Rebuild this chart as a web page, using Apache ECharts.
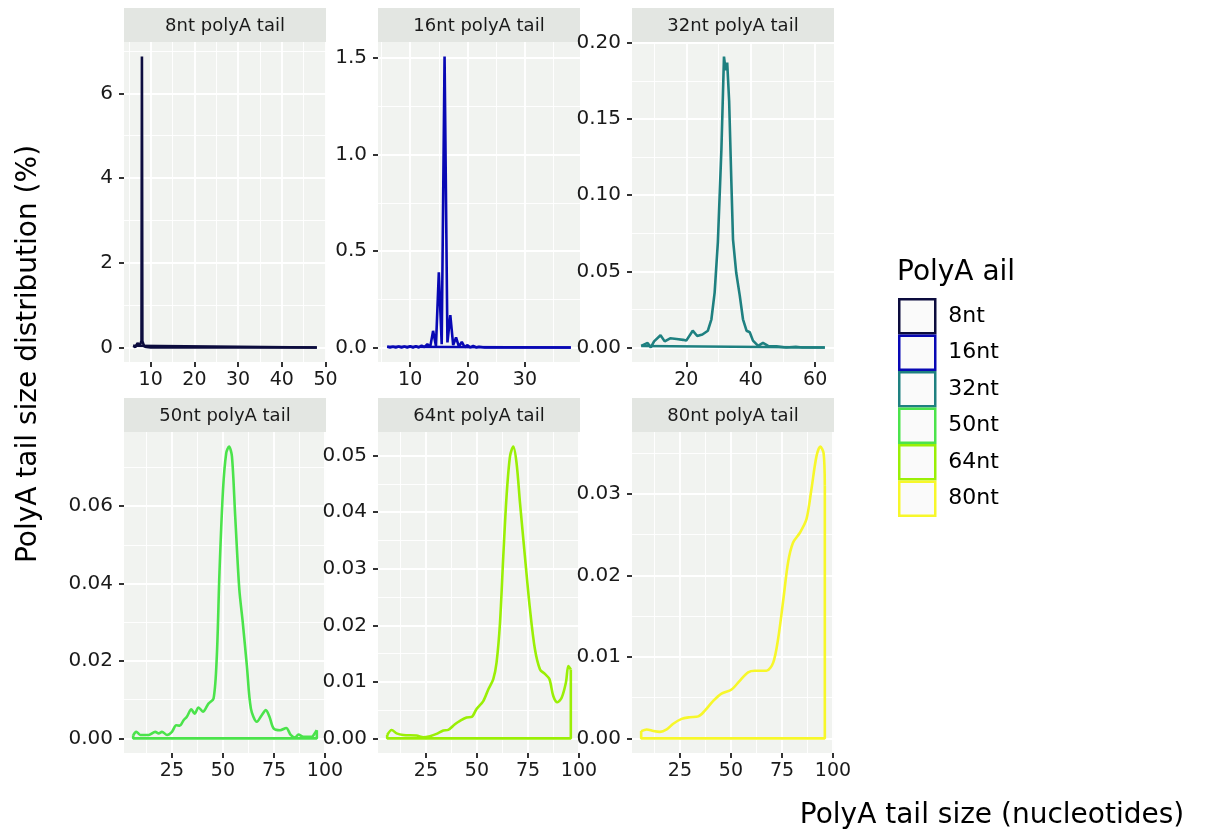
<!DOCTYPE html>
<html>
<head>
<meta charset="utf-8">
<script src="https://cdn.jsdelivr.net/npm/echarts@6/dist/echarts.min.js"></script>
<style>
html, body { margin: 0; padding: 0; background: #fff; }
#chart { width: 1205px; height: 834px; }
</style>
</head>
<body>
<div id="chart"></div>
<script>
// facets
const tails = ['8nt', '16nt', '32nt', '50nt', '64nt', '80nt'];

// 8nt polyA tail
const x8 = [6, 6.5, 7, 7.5, 7.9, 8, 8.1, 8.5, 9, 10, 48];
const y8 = [0.04, 0.01, 0.1, 0.05, 0.15, 6.87, 0.15, 0.03, 0.01, 0, 0];
const xTicks8 = ['10', '20', '30', '40', '50'];
const yTicks8 = ['0', '2', '4', '6'];

// 16nt polyA tail
const x16 = [6, 6.5, 7, 7.5, 8, 8.5, 9, 9.5, 10, 10.5, 11, 11.5, 12, 12.5, 13, 13.5, 14, 14.5, 15, 15.5,
  16, 16.5, 17, 17.5, 18, 18.5, 19, 19.5, 20, 20.5, 21, 21.5, 22, 23, 38];
const y16 = [0.004, 0, 0.004, 0, 0.005, 0, 0.005, 0, 0.006, 0, 0.007, 0, 0.01, 0.002, 0.017, 0.003, 0.086, 0.008, 0.39, 0.017,
  1.508, 0.026, 0.167, 0.012, 0.052, 0.004, 0.029, 0.002, 0.012, 0, 0.008, 0, 0.004, 0, 0];
const xTicks16 = ['10', '20', '30'];
const yTicks16 = ['0.0', '0.5', '1.0', '1.5'];

// 32nt polyA tail
const x32 = [6, 8, 9, 10, 12, 13.3, 15, 17, 19, 20, 22, 23.4, 25, 26.7, 27.8, 28.8, 29.8, 30.9, 31.7, 32.2,
  32.7, 33.3, 34, 34.5, 35.5, 36.6, 37.6, 38.7, 39.7, 40.7, 42.3, 43.8, 45.4, 48, 51, 54, 56, 63];
const y32 = [0.001, 0.003, 0, 0.004, 0.008, 0.004, 0.006, 0.0055, 0.005, 0.0045, 0.011, 0.0075, 0.0085, 0.011, 0.0185, 0.036, 0.069, 0.13, 0.191, 0.182,
  0.187, 0.162, 0.108, 0.071, 0.049, 0.034, 0.0185, 0.011, 0.010, 0.0045, 0.001, 0.003, 0.001, 0.0007, 0, 0.0004, 0, 0];
const xTicks32 = ['20', '40', '60'];
const yTicks32 = ['0.00', '0.05', '0.10', '0.15', '0.20'];

// 50nt polyA tail
const x50 = [6, 7.5, 9.5, 13.6, 16.8, 18.5, 20.1, 22.6, 25, 27.1, 28.8, 30.7, 32.3, 34.5, 36.1, 38, 40.2, 42.9, 45.4, 47,
  48.3, 50, 51.6, 53, 54.4, 56, 58, 59.7, 61.7, 63.7, 66.6, 69, 71, 72.8, 74.8, 78, 81, 83.2, 85.4, 87, 89.4, 93.5, 95, 96];
const y50 = [0.0008, 0.0017, 0.0009, 0.0009, 0.0017, 0.0013, 0.0017, 0.0009, 0.0017, 0.0034, 0.0033, 0.0047, 0.0056, 0.0075, 0.0064, 0.008, 0.0069, 0.009, 0.0103, 0.0214,
  0.043, 0.064, 0.0737, 0.0754, 0.0729, 0.0574, 0.0386, 0.03, 0.0189, 0.0077, 0.0043, 0.006, 0.0073, 0.0056, 0.0026, 0.0021, 0.0027, 0.0009, 0.0002, 0.001, 0.0004, 0.0004, 0.0013, 0.0021];
const xTicks50 = ['25', '50', '75', '100'];
const yTicks50 = ['0.00', '0.02', '0.04', '0.06'];

// 64nt polyA tail
const x64 = [6, 8.2, 10.6, 13.9, 20.4, 23.7, 27, 30.2, 33.5, 35.9, 39.2, 41.7, 44.9, 47.4, 49.8, 53.1, 55.6, 58, 59.6, 61.3,
  62.9, 64.5, 66.2, 67.8, 69.4, 71.1, 73.5, 76, 78.4, 80.9, 83.3, 85.5, 87.4, 89.4, 91.5, 93.6, 94.8, 96];
const y64 = [0.0006, 0.0015, 0.0009, 0.0006, 0.0005, 0.0002, 0.0004, 0.0008, 0.0014, 0.0015, 0.0025, 0.0031, 0.0037, 0.0038, 0.0052, 0.0066, 0.0087, 0.0105, 0.0134, 0.0205,
  0.0322, 0.0428, 0.0499, 0.0516, 0.0487, 0.0416, 0.0322, 0.0228, 0.0158, 0.0122, 0.0114, 0.0105, 0.0075, 0.0064, 0.0072, 0.0099, 0.0128, 0.0122];
const xTicks64 = ['25', '50', '75', '100'];
const yTicks64 = ['0.00', '0.01', '0.02', '0.03', '0.04', '0.05'];

// 80nt polyA tail
const x80 = [6, 8.7, 12, 15.2, 18.5, 21.7, 25.8, 29.9, 34, 37.2, 41.3, 45.4, 50.3, 54.4, 58.4, 61.7, 67.4, 70.7, 73.1, 75.5,
  78, 80.4, 83.7, 87, 89.4, 91.9, 93.8, 95.4, 96];
const y80 = [0.0009, 0.0011, 0.0009, 0.0008, 0.0011, 0.0018, 0.0024, 0.0026, 0.0027, 0.0034, 0.0046, 0.0055, 0.006, 0.0071, 0.0081, 0.0083, 0.0083, 0.0093, 0.0122, 0.0167,
  0.0216, 0.024, 0.0252, 0.0269, 0.0305, 0.0346, 0.0358, 0.035, 0.031];
const xTicks80 = ['25', '50', '75', '100'];
const yTicks80 = ['0.00', '0.01', '0.02', '0.03'];

const colors = ['#0c0c3e', '#0808b4', '#1e8080', '#4be34b', '#9aef05', '#f7f72a'];

const panels = [
  { xs: x8, ys: y8, xLab: xTicks8, yLab: yTicks8, smooth: false },
  { xs: x16, ys: y16, xLab: xTicks16, yLab: yTicks16, smooth: false },
  { xs: x32, ys: y32, xLab: xTicks32, yLab: yTicks32, smooth: false },
  { xs: x50, ys: y50, xLab: xTicks50, yLab: yTicks50, smooth: 0.3 },
  { xs: x64, ys: y64, xLab: xTicks64, yLab: yTicks64, smooth: 0.3 },
  { xs: x80, ys: y80, xLab: xTicks80, yLab: yTicks80, smooth: 0.3 }
];

const FONT = 'DejaVu Sans';
const TXT = '#1a1a1a';
const PW = 202, STRIP = 34;
const lefts = [124, 378, 632];
const tops = [42, 432];
const heights = [320, 321];

// ggplot style 5% expansion
function expand(lo, hi) {
  const d = (hi - lo) * 0.05;
  return [lo - d, hi + d];
}
// minor grid lines half way between the major ones
function minorsOf(vals, lo, hi) {
  const step = vals[1] - vals[0];
  const out = [];
  for (let t = vals[0] - step / 2; t <= hi; t += step) {
    if (t >= lo) out.push(+t.toFixed(6));
  }
  return out;
}
function labelFor(vals, labs) {
  return function (v) {
    for (let k = 0; k < vals.length; k++) {
      if (Math.abs(vals[k] - v) < 1e-9) return labs[k];
    }
    return '';
  };
}

const grid = [], xAxis = [], yAxis = [], series = [], graphic = [];

panels.forEach((p, i) => {
  const row = Math.floor(i / 3), col = i % 3;
  const left = lefts[col], top = tops[row], h = heights[row];
  const xr = expand(Math.min(...p.xs), Math.max(...p.xs));
  const yr = expand(0, Math.max(...p.ys));
  const xv = p.xLab.map(Number), yv = p.yLab.map(Number);

  grid.push({ left: left, top: top, width: PW, height: h, show: true, backgroundColor: '#f1f3f0',
    borderWidth: 0, containLabel: false, outerBoundsMode: 'none' });

  xAxis.push({
    type: 'value', gridIndex: i, min: xr[0], max: xr[1], position: 'bottom',
    axisLine: { show: false, onZero: false },
    axisTick: { show: true, length: 5, lineStyle: { color: '#333', width: 2 }, customValues: xv },
    axisLabel: { customValues: xv, formatter: labelFor(xv, p.xLab), fontFamily: FONT, fontSize: 19, color: TXT, margin: 9 },
    splitLine: { show: true, lineStyle: { color: '#ffffff', width: 1.8 } }
  });
  xAxis.push({
    type: 'value', gridIndex: i, min: xr[0], max: xr[1], position: 'top',
    axisLine: { show: false, onZero: false },
    axisTick: { show: false, customValues: minorsOf(xv, xr[0], xr[1]) },
    axisLabel: { show: false },
    splitLine: { show: true, lineStyle: { color: '#ffffff', width: 0.9 } }
  });
  yAxis.push({
    type: 'value', gridIndex: i, min: yr[0], max: yr[1], position: 'left',
    axisLine: { show: false, onZero: false },
    axisTick: { show: true, length: 5, lineStyle: { color: '#333', width: 2 }, customValues: yv },
    axisLabel: { customValues: yv, formatter: labelFor(yv, p.yLab), fontFamily: FONT, fontSize: 20, color: TXT, margin: 11 },
    splitLine: { show: true, lineStyle: { color: '#ffffff', width: 1.8 } }
  });
  yAxis.push({
    type: 'value', gridIndex: i, min: yr[0], max: yr[1], position: 'right',
    axisLine: { show: false, onZero: false },
    axisTick: { show: false, customValues: minorsOf(yv, yr[0], yr[1]) },
    axisLabel: { show: false },
    splitLine: { show: true, lineStyle: { color: '#ffffff', width: 0.9 } }
  });

  const last = p.xs.length - 1;
  const style = { color: colors[i], width: 2.6 };
  // density outline
  series.push({
    type: 'line', name: tails[i], xAxisIndex: 2 * i, yAxisIndex: 2 * i,
    data: p.xs.map((x, k) => [x, p.ys[k]]),
    showSymbol: false, symbol: 'none', smooth: p.smooth,
    lineStyle: style, itemStyle: { color: colors[i] }, silent: true, z: 3
  });
  // closing edges down to the baseline
  series.push({
    type: 'line', name: tails[i], xAxisIndex: 2 * i, yAxisIndex: 2 * i,
    data: [[p.xs[0], p.ys[0]], [p.xs[0], 0], [p.xs[last], 0], [p.xs[last], p.ys[last]]],
    showSymbol: false, symbol: 'none',
    lineStyle: style, itemStyle: { color: colors[i] }, silent: true, z: 3
  });

  // facet strip
  const sy = top - STRIP;
  graphic.push({ type: 'rect', shape: { x: left, y: sy, width: PW, height: STRIP }, style: { fill: '#e3e6e2' }, silent: true });
  graphic.push({ type: 'text', x: left + PW / 2, y: sy + STRIP / 2 + 1,
    style: { text: tails[i] + ' polyA tail', fontFamily: FONT, fontSize: 18, fill: TXT, align: 'center', verticalAlign: 'middle' }, silent: true });
});

// axis titles
graphic.push({ type: 'text', x: 29, y: 354, rotation: Math.PI / 2,
  style: { text: 'PolyA tail size distribution (%)', fontFamily: FONT, fontSize: 28, fill: '#000', align: 'center', verticalAlign: 'middle' } });
graphic.push({ type: 'text', x: 992, y: 816,
  style: { text: 'PolyA tail size (nucleotides)', fontFamily: FONT, fontSize: 28, fill: '#000', align: 'center', verticalAlign: 'middle' } });

const chart = echarts.init(document.getElementById('chart'), null, { renderer: 'canvas' });
chart.setOption({
  animation: false,
  backgroundColor: '#ffffff',
  title: { text: 'PolyA ail', left: 897, top: 259, padding: 0,
    textStyle: { fontFamily: FONT, fontSize: 28, fontWeight: 'normal', color: '#000' } },
  legend: {
    orient: 'vertical', left: 898, top: 298, padding: 0,
    itemWidth: 36, itemHeight: 34, itemGap: 0, selectedMode: false,
    data: tails.map((t, i) => ({ name: t, icon: 'rect',
      itemStyle: { color: '#fafafa', borderColor: colors[i], borderWidth: 2.5 } })),
    textStyle: { fontFamily: FONT, fontSize: 22, color: '#000', padding: [0, 0, 0, 8] }
  },
  grid: grid,
  xAxis: xAxis,
  yAxis: yAxis,
  series: series,
  graphic: graphic
});
</script>
</body>
</html>
